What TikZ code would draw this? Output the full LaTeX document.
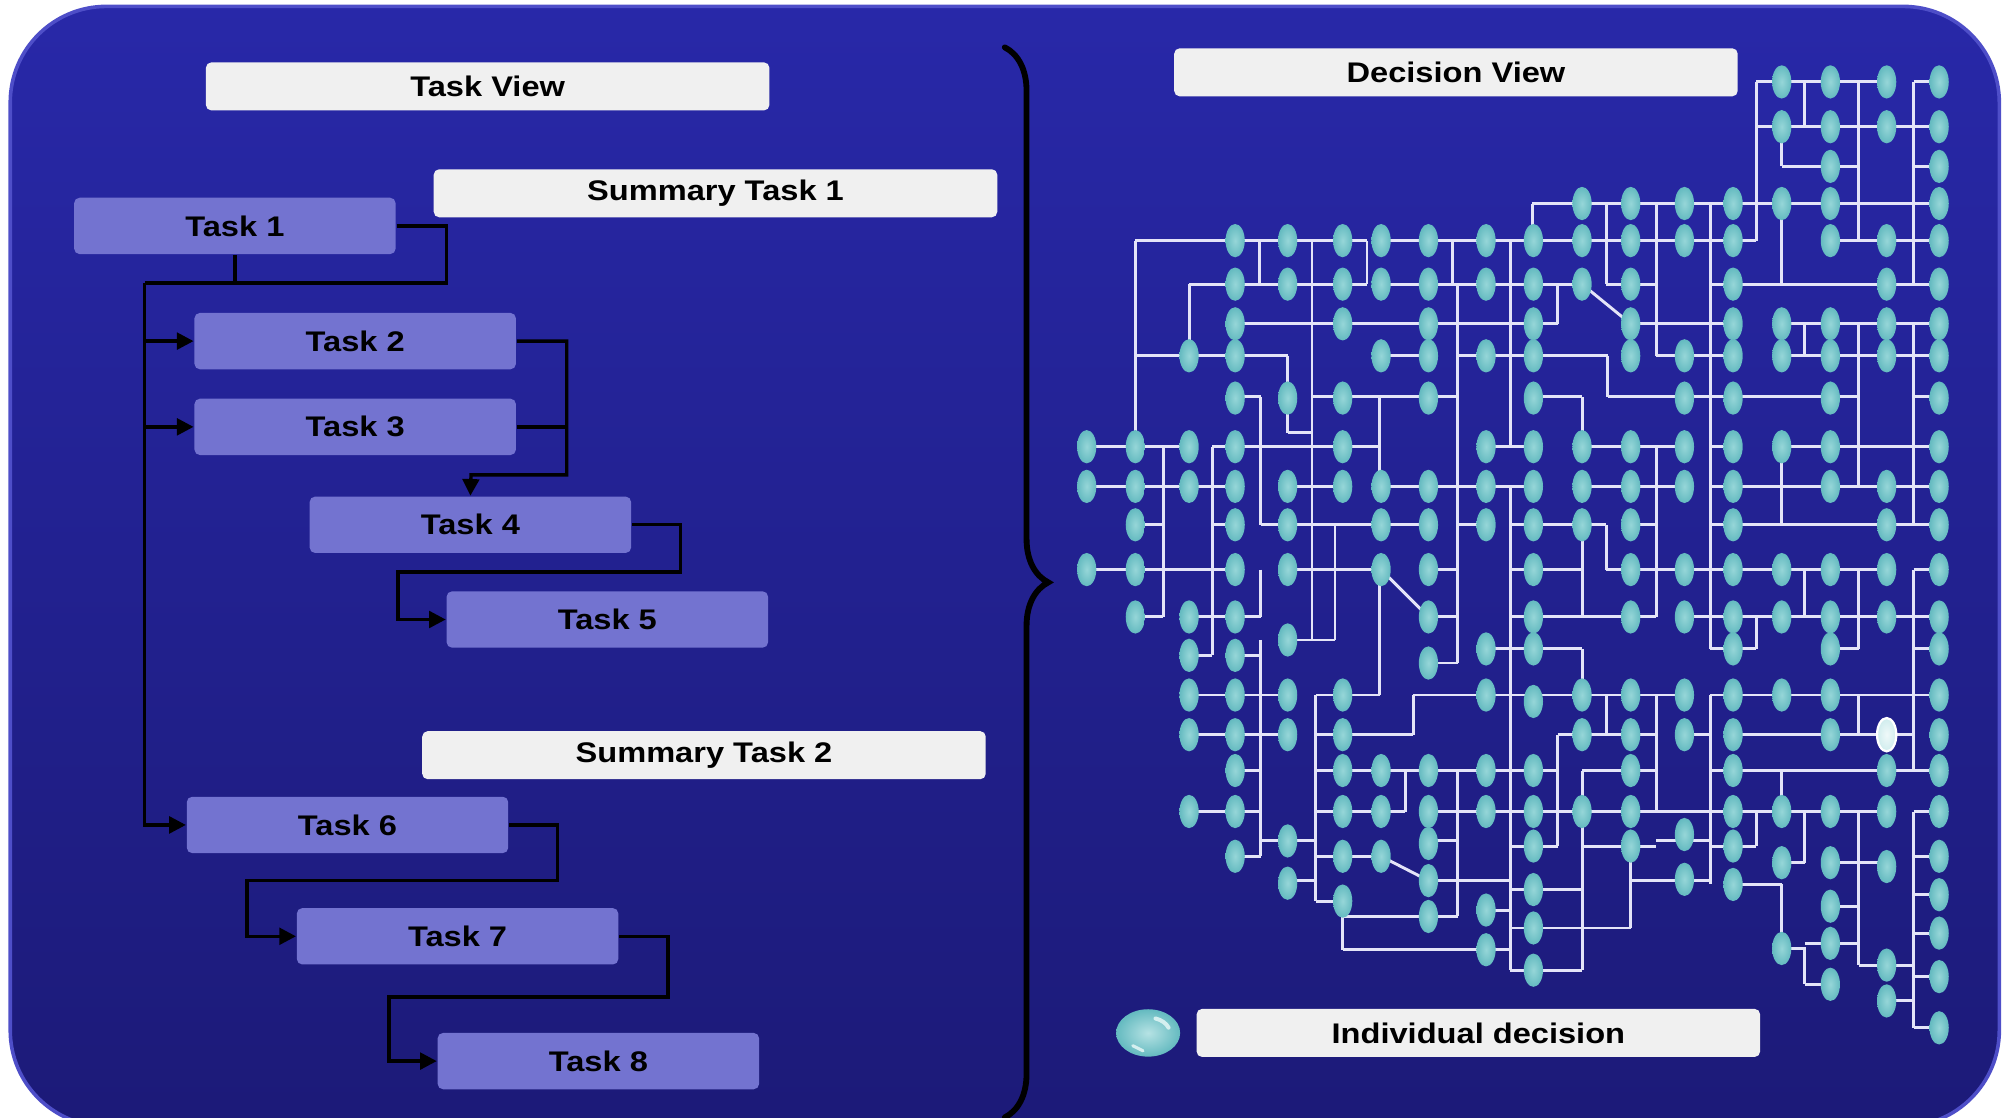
\documentclass[tikz,border=0pt]{standalone}
\usepackage{fontspec}
\setmainfont{Liberation Sans}
\newfontfamily\boxfont[FakeStretch=1.15]{Liberation Sans}
\usepackage{xcolor}
\usetikzlibrary{shapes.geometric,arrows.meta,decorations.pathreplacing,positioning}
\definecolor{panelTop}{RGB}{40,40,168}
\definecolor{panelBot}{RGB}{28,26,120}
\definecolor{panelRim}{RGB}{78,78,200}
\definecolor{taskFill}{RGB}{115,115,208}
\definecolor{titleFill}{RGB}{240,240,240}
\definecolor{decIn}{RGB}{150,214,216}
\definecolor{decOut}{RGB}{100,186,192}
\definecolor{wireCol}{RGB}{228,228,248}
\tikzset{
  task/.style={rectangle,rounded corners=1.2pt,fill=taskFill,minimum width=2.51cm,minimum height=0.44cm,inner sep=0pt,font=\boxfont\fontsize{6.3}{7}\selectfont\bfseries},
  titlebox/.style={rectangle,rounded corners=1.2pt,fill=titleFill,minimum width=4.4cm,minimum height=0.375cm,inner sep=0pt,font=\boxfont\fontsize{6.3}{7}\selectfont\bfseries},
  link/.style={draw=black,line width=0.75pt},
  arr/.style={link,-{Triangle[length=1.3mm,width=1.3mm]}},
  dec/.style={ellipse,inner sep=0pt,minimum width=0.15cm,minimum height=0.26cm,inner color=decIn,outer color=decOut},
  wire/.style={draw=wireCol,line width=0.65pt}
}

\begin{document}
\begin{tikzpicture}[x=0.01cm,y=-0.01cm]
\useasboundingbox (0,0) rectangle (1568,873);
% panel
\begin{scope}
\clip (0,0) rectangle (1568,873);
\shade[top color=panelTop,bottom color=panelBot,draw=panelRim,line width=0.8pt,rounded corners=0.75cm] (8,5) rectangle (1562,880);
\end{scope}

% task view
\node[titlebox] (tv) at (381,67.5) {Task View};
\node[titlebox] (s1) at (559,151) {Summary Task 1};
\node[titlebox] (s2) at (550,590) {Summary Task 2};
\node[task] (t1) at (183.5,176.5) {Task 1};
\node[task] (t2) at (277.5,266.5) {Task 2};
\node[task] (t3) at (277.5,333.5) {Task 3};
\node[task] (t4) at (367.5,410) {Task 4};
\node[task] (t5) at (474.5,484) {Task 5};
\node[task] (t6) at (271.5,644.5) {Task 6};
\node[task] (t7) at (357.5,731.5) {Task 7};
\node[task] (t8) at (467.5,829) {Task 8};

\coordinate (j1) at (113,221);
\coordinate (m4) at (368,371);
\draw[link] (t1.east) -- ++(39,0) |- (j1);
\draw[link] (t1.south) -- (t1.south |- j1);
\draw[arr] (j1) |- (t6.west);
\draw[arr] (j1 |- t2.west) -- (t2.west);
\draw[arr] (j1 |- t3.west) -- (t3.west);
\draw[arr] (t2.east) -- ++(39,0) |- (m4) -- (t4.north);
\draw[link] (t3.east) -- ++(39,0);
\draw[arr] (t4.east) -- ++(38,0) |- (311,447) |- (t5.west);
\draw[arr] (t6.east) -- ++(38,0) |- (193,688) |- (t7.west);
\draw[arr] (t7.east) -- ++(38,0) |- (304,779) |- (t8.west);

% brace
\draw[decorate,decoration={brace,amplitude=0.34cm},line width=1.3pt,line cap=round] (785,37) -- (785,873);

% decision view
\node[titlebox] (dv) at (1137.5,56.5) {Decision View};
\node[titlebox] (ind) at (1155,807) {Individual decision};
\node[ellipse,minimum width=0.5cm,minimum height=0.37cm,inner sep=0pt,inner color=decIn!70!white,outer color=decOut] (legend) at (897,807) {};
\draw[white!60!decIn,line width=0.9pt,line cap=round] (902.8,795.7) arc [start angle=-70,end angle=-20,x radius=17,y radius=12];
\draw[white!60!decIn,line width=0.7pt,line cap=round] (885,817) -- (893,821);

% wires, horizontal
\foreach \y/\a/\b in {64/1372/1474,64/1495/1515,99/1372/1515,130/1392/1452,130/1495/1515,
  159/1197/1515,188/887/1068,188/1079/1372,188/1430/1515,
  222/929/1068,222/1079/1236,222/1255/1294,222/1336/1515,
  253/965/1217,253/1274/1354,253/1392/1515,
  278/887/1006,278/1079/1116,278/1139/1256,278/1294/1354,278/1392/1515,
  310/965/985,310/1025/1139,310/1198/1236,310/1256/1452,310/1495/1515,338/1006/1025,
  349/849/929,349/947/1078,349/1161/1198,349/1236/1316,349/1336/1354,349/1392/1515,
  380/849/965,380/1006/1049,380/1079/1198,380/1236/1316,380/1336/1515,
  410/887/909,410/947/965,410/985/1116,410/1139/1161,410/1180/1255,410/1274/1294,410/1336/1515,
  445/849/965,445/1006/1079,445/1116/1139,445/1180/1236,445/1255/1474,445/1495/1515,
  482/887/909,482/929/985,482/1116/1139,482/1180/1294,482/1316/1515,
  500/1006/1043,507/1161/1236,507/1336/1372,507/1430/1452,507/1495/1515,
  512/929/947,512/965/985,518/1116/1139,
  543/929/1006,543/1028/1078,543/1104/1316,543/1336/1515,
  574/929/1006,574/1028/1104,574/1217/1294,574/1316/1336,574/1354/1495,
  602/965/985,602/1028/1217,602/1236/1294,602/1336/1515,
  634/929/985,634/1028/1098,634/1116/1474,634/1495/1515,
  657/985/1028,657/1116/1139,657/1294/1336,661/1180/1217,661/1237/1294,661/1336/1372,
  669/965/985,669/1028/1079,669/1495/1515,674/1392/1410,674/1430/1474,
  688/1006/1028,688/1116/1180,688/1274/1336,691/1354/1392,695/1180/1236,699/1495/1515,
  704/1028/1049,708/1430/1452,711/1161/1180,716/1049/1139,725/1180/1274,729/1495/1515,
  737/1410/1452,741/1392/1410,742/1049/1180,754/1452/1495,758/1180/1236,763/1495/1515,
  769/1410/1430,782/1474/1495,803/1495/1515}
  \draw[wire] (\a,\y) -- (\b,\y);
% wires, vertical
\foreach \x/\a/\b in {887/188/349,909/349/482,929/222/278,947/349/512,984/188/222,
  985/310/410,985/445/482,985/500/669,1006/278/338,1025/188/500,1028/543/704,1043/410/500,
  1049/704/742,1068/188/222,1078/310/380,1078/445/543,1098/602/634,1104/543/574,
  1135/188/222,1139/222/518,1139/602/716,1180/188/349,1180/380/758,1197/159/188,
  1217/222/253,1217/574/661,1236/310/349,1236/410/482,1236/507/543,1236/602/758,
  1255/159/222,1255/410/445,1255/543/574,1256/278/310,1274/661/725,
  1294/159/278,1294/349/482,1294/543/634,1336/159/507,1336/543/691,
  1372/64/188,1372/482/507,1372/634/661,1392/99/130,1392/159/222,1392/349/410,1392/602/634,1392/691/742,
  1410/64/99,1410/253/278,1410/445/482,1410/634/674,1410/740/769,
  1452/64/188,1452/253/380,1452/445/507,1452/543/574,1452/634/754,
  1495/64/222,1495/253/410,1495/445/602,1495/634/803}
  \draw[wire] (\x,\a) -- (\x,\b);
\draw[wire] (1236,222) -- (1274,253);
\draw[wire] (1079,445) -- (1116,482);
\draw[wire] (1079,669) -- (1116,688);

% decisions, regular rows
\foreach \y/\xs in {64/{1392,1430,1474,1515},99/{1392,1430,1474,1515},130/{1430,1515},
  159/{1236,1274,1316,1354,1392,1430,1515},
  188/{965,1006,1049,1079,1116,1161,1198,1236,1274,1316,1354,1430,1474,1515},
  222/{965,1006,1049,1079,1116,1161,1198,1236,1274,1354,1474,1515},
  253/{965,1049,1116,1198,1274,1354,1392,1430,1474,1515},
  278/{929,965,1079,1116,1161,1198,1274,1316,1354,1392,1430,1474,1515},
  311/{965,1006,1049,1116,1198,1316,1354,1430,1515},
  349/{849,887,929,965,1049,1161,1198,1236,1274,1316,1354,1392,1430,1515},
  380/{849,887,929,965,1006,1049,1079,1116,1161,1198,1236,1274,1316,1354,1430,1474,1515},
  410/{887,965,1006,1079,1116,1161,1198,1236,1274,1354,1474,1515},
  445/{849,887,965,1006,1079,1116,1198,1274,1316,1354,1392,1430,1474,1515},
  482/{887,929,965,1116,1198,1274,1316,1354,1392,1430,1474,1515},
  543/{929,965,1006,1049,1161,1236,1274,1316,1354,1392,1430,1515},
  574/{929,965,1006,1049,1236,1274,1316,1354,1430,1515},
  602/{965,1049,1079,1116,1161,1198,1274,1354,1474,1515},
  634/{929,965,1049,1079,1116,1161,1198,1236,1274,1354,1392,1430,1474,1515}}
  \foreach \x in \xs \node[dec] (n\x-\y) at (\x,\y) {};
% decisions, off the grid
\foreach \x/\y in {929/512,965/512,1006/500,1116/518,1161/507,1198/507,1354/507,1430/507,1515/507,1198/548,
  1006/657,965/669,1049/669,1079/669,1116/659,1198/661,1274/661,1316/652,1354/661,1392/674,1430/674,1474/677,1515/669,
  1006/690,1116/688,1198/695,1316/687,1354/691,1515/699,
  1049/704,1116/716,1161/711,1198/725,1430/708,1515/729,
  1161/742,1392/741,1430/737,1474/754,1515/763,
  1198/758,1430/769,1474/782,1515/803}
  \node[dec] (n\x-\y) at (\x,\y) {};
\node[dec,inner color=white!85!decIn,outer color=white!55!decIn,draw=white,line width=0.5pt] (chosen) at (1474,574) {};
\end{tikzpicture}
\end{document}
